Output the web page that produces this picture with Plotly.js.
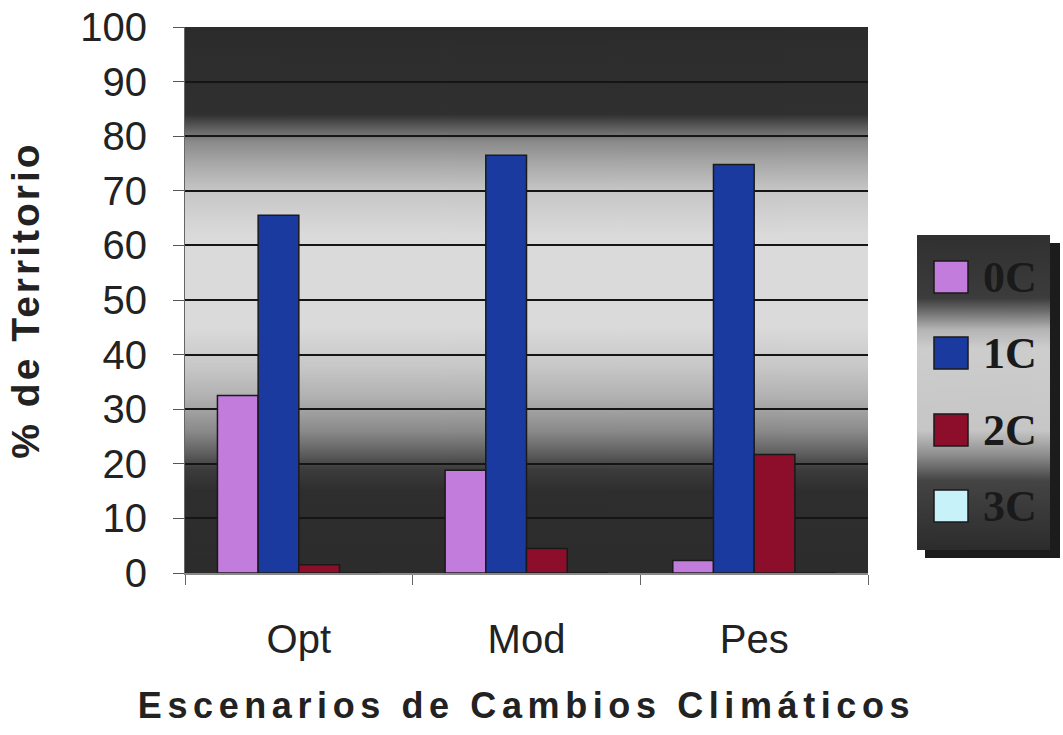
<!DOCTYPE html>
<html><head><meta charset="utf-8">
<script src="https://cdn.plot.ly/plotly-3.0.1.min.js"></script>
<style>
body{margin:0;background:#fff}
#chart{width:1063px;height:735px}
.xtitle{letter-spacing:5.6px}
.ytitle{letter-spacing:3px}
</style></head><body><div id="chart"></div>
<script>
const categories = ['Opt', 'Mod', 'Pes'];
const seriesNames = ['0C', '1C', '2C', '3C'];
const values0C = [32.5, 18.8, 2.3];
const values1C = [65.5, 76.5, 74.8];
const values2C = [1.5, 4.5, 21.7];
const values3C = [0, 0, 0];
const yTickVals = [0, 10, 20, 30, 40, 50, 60, 70, 80, 90, 100];
const seriesColors = ['#c27ddc', '#1a3aa0', '#8c0e2a', '#c8f2fa'];
const allValues = [values0C, values1C, values2C, values3C];

// plot geometry (px) for paper conversion
const L = 185, R = 868, T = 27, B = 573;
const fx = px => (px - L) / (R - L);
const fy = py => (B - py) / (B - T);

function gradURL(stops, h) {
  const c = document.createElement('canvas');
  c.width = 4; c.height = h;
  const ctx = c.getContext('2d');
  const g = ctx.createLinearGradient(0, 0, 0, h);
  stops.forEach(s => g.addColorStop(s[0], s[1]));
  ctx.fillStyle = g; ctx.fillRect(0, 0, 4, h);
  return c.toDataURL();
}
function solidURL(col) {
  const c = document.createElement('canvas');
  c.width = 4; c.height = 4;
  const ctx = c.getContext('2d');
  ctx.fillStyle = col; ctx.fillRect(0, 0, 4, 4);
  return c.toDataURL();
}
// background gradient, stops given by axis value (100 at top)
const bgStops = [[100,'#2c2c2c'],[84,'#303030'],[82,'#555555'],[79,'#8a8a8a'],[75,'#a8a8a8'],[70,'#c6c6c6'],[62,'#dadada'],[45,'#dadada'],[38,'#c8c8c8'],[32,'#b0b0b0'],[26,'#8a8a8a'],[22,'#606060'],[19,'#3c3c3c'],[15,'#2e2e2e'],[0,'#2c2c2c']]
  .map(s => [(100 - s[0]) / 100, s[1]]);
const plotBg = gradURL(bgStops, 546);
const legStops = [[0,'#303030'],[0.2,'#3c3c3c'],[0.24,'#6a6a6a'],[0.3,'#b4b4b4'],[0.36,'#cdcdcd'],[0.62,'#c6c6c6'],[0.7,'#8c8c8c'],[0.78,'#444444'],[1,'#2c2c2c']];
const legBg = gradURL(legStops, 315);

const traces = seriesNames.map((n, i) => ({
  type: 'bar', name: n, x: categories, y: allValues[i],
  marker: { color: seriesColors[i], line: { color: '#1a1a1a', width: 1.5 } },
  showlegend: false, hoverinfo: 'x+y+name'
}));

// custom legend
const legendRowsY = [277, 353, 430, 506];
const shapes = [], annotations = [];
seriesNames.forEach((n, i) => {
  const cy = legendRowsY[i];
  shapes.push({ type: 'rect', xref: 'paper', yref: 'paper', layer: 'above',
    x0: fx(934), x1: fx(968), y0: fy(cy + 16), y1: fy(cy - 16),
    fillcolor: seriesColors[i], line: { color: '#1a1a1a', width: 1.5 } });
  annotations.push({ xref: 'paper', yref: 'paper', x: fx(1010), y: fy(cy),
    xanchor: 'center', yanchor: 'middle', showarrow: false, text: n,
    font: { family: 'Liberation Serif', size: 44, weight: 'bold', color: '#1a1a1a' } });
});

const layout = {
  width: 1063, height: 735,
  margin: { l: L, r: 1063 - R, t: T, b: 735 - B },
  paper_bgcolor: '#ffffff', plot_bgcolor: 'rgba(0,0,0,0)',
  barmode: 'group', bargap: 0.285, bargroupgap: 0,
  showlegend: false,
  font: { family: 'Liberation Sans', color: '#222' },
  images: [
    { source: plotBg, xref: 'paper', yref: 'paper', x: 0, y: 1, sizex: 1, sizey: 1,
      sizing: 'stretch', xanchor: 'left', yanchor: 'top', layer: 'below' },
    { source: solidURL('#1c1c1c'), xref: 'paper', yref: 'paper', x: fx(925), y: fy(243),
      sizex: fx(1060) - fx(925), sizey: fy(243) - fy(558), sizing: 'stretch',
      xanchor: 'left', yanchor: 'top', layer: 'below' },
    { source: legBg, xref: 'paper', yref: 'paper', x: fx(917), y: fy(235),
      sizex: fx(1050) - fx(917), sizey: fy(235) - fy(550), sizing: 'stretch',
      xanchor: 'left', yanchor: 'top', layer: 'below' }
  ],
  xaxis: {
    type: 'category', range: [-0.5, 2.5], showgrid: false,
    showline: true, linecolor: '#888', linewidth: 1.5,
    ticks: 'outside', tickson: 'boundaries', ticklen: 10, tickcolor: '#666',
    tickfont: { family: 'Liberation Sans', size: 40, color: '#222' },
    ticklabelstandoff: 30,
    title: { text: 'Escenarios de Cambios Climáticos', standoff: 33,
      font: { family: 'Liberation Sans', size: 36, weight: 'bold', color: '#222' } }
  },
  yaxis: {
    range: [0, 100], tickmode: 'array', tickvals: yTickVals, ticktext: yTickVals.map(String),
    showgrid: true, gridcolor: '#151515', gridwidth: 1.5, zeroline: false,
    showline: true, linecolor: '#666', linewidth: 1,
    ticks: 'outside', ticklen: 11, tickcolor: '#555',
    tickfont: { family: 'Liberation Sans', size: 40, color: '#222' },
    ticklabelstandoff: 18,
    title: { text: '% de Territorio', standoff: 28,
      font: { family: 'Liberation Sans', size: 39, weight: 'bold', color: '#222' } }
  },
  shapes: shapes, annotations: annotations
};
Plotly.newPlot('chart', traces, layout, { displayModeBar: false, responsive: false });
</script></body></html>
